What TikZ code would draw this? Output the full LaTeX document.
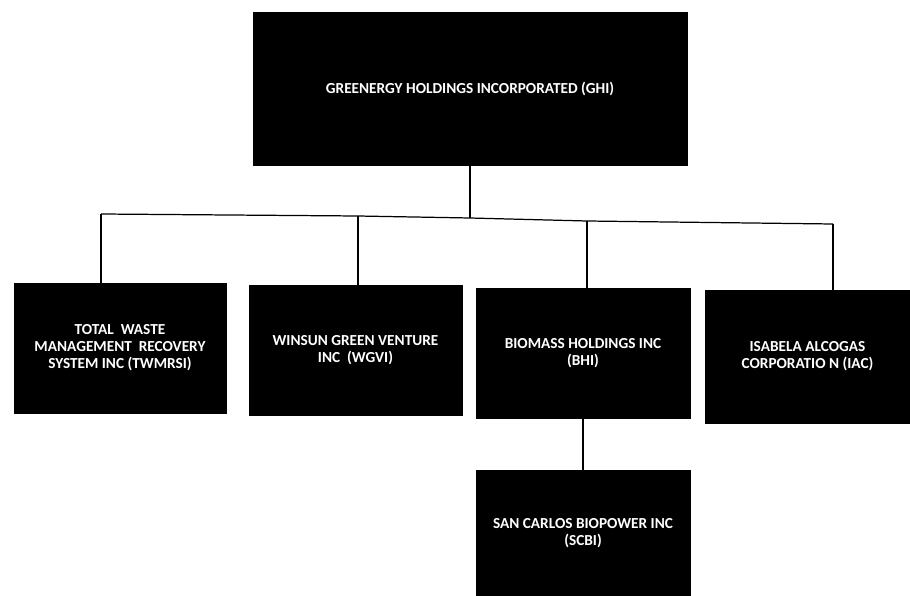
\documentclass[tikz,border=0pt]{standalone}
\usepackage{fontspec}
\setmainfont{Carlito}

\begin{document}
\begin{tikzpicture}
%----------caja---------
\tikzset{caja/.style={
rectangle,
draw=black,
fill=black,
text=white,
align=center,
font=\fontsize{8.7}{9.6}\selectfont\bfseries,
inner sep=0pt
}}
\tikzset{linea/.style={line width=0.7pt}}

\useasboundingbox (0,0) rectangle (18.2,-11.92);

%------------ cajas---------------
\node [caja,minimum width=8.68cm,minimum height=3.06cm] (ghi) at (9.4,-1.77) {GREENERGY HOLDINGS INCORPORATED (GHI)};
\node [caja,minimum width=4.24cm,minimum height=2.6cm] (twmrsi) at (2.4,-6.96) {TOTAL\ \ WASTE\\MANAGEMENT\ \ RECOVERY\\SYSTEM INC (TWMRSI)};
\node [caja,minimum width=4.26cm,minimum height=2.6cm] (wgvi) at (7.11,-7.0) {WINSUN GREEN VENTURE\\INC\ \ (WGVI)};
\node [caja,minimum width=4.28cm,minimum height=2.6cm] (bhi) at (11.66,-7.06) {BIOMASS HOLDINGS INC\\(BHI)};
\node [caja,minimum width=4.1cm,minimum height=2.66cm] (iac) at (16.15,-7.13) {ISABELA ALCOGAS\\CORPORATIO N (IAC)};
\node [caja,minimum width=4.28cm,minimum height=2.52cm] (scbi) at (11.66,-10.66) {SAN CARLOS BIOPOWER INC\\(SCBI)};

% -----------lineas----------------
\coordinate (j1) at (2.02,-4.28);
\coordinate (j2) at (7.16,-4.32);
\coordinate (jt) at (9.4,-4.36);
\coordinate (j3) at (11.74,-4.42);
\coordinate (j4) at (16.66,-4.48);

\draw [linea](j1)--(j2)--(jt)--(j3)--(j4);
\draw [linea](ghi.south)--(jt);
\draw [linea](j1)--(j1 |- twmrsi.north);
\draw [linea](j2)--(j2 |- wgvi.north);
\draw [linea](j3)--(j3 |- bhi.north);
\draw [linea](j4)--(j4 |- iac.north);

%biomasa a san carlos
\draw [linea](bhi.south)--(scbi.north);
\end{tikzpicture}
\end{document}
